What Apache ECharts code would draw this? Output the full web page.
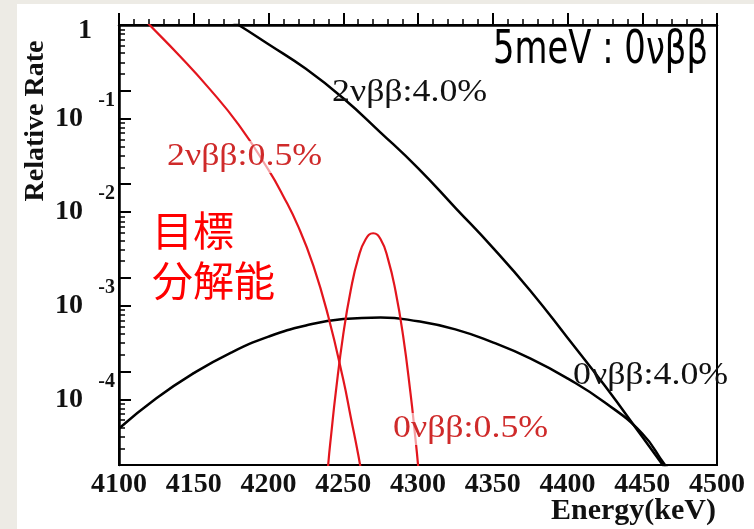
<!DOCTYPE html>
<html>
<head>
<meta charset="utf-8">
<script src="https://cdn.jsdelivr.net/npm/echarts@6/dist/echarts.min.js"></script>
<style>
  html, body { margin: 0; padding: 0; background: #ffffff; }
  #chart { width: 754px; height: 529px; }
</style>
</head>
<body>
<div id="chart"></div>
<script>
// Energy axis (keV)
const energyMin = 4100;
const energyMax = 4500;
const energyStep = 50;

// Rate axis: decades shown as 10^n, lower edge of the plot in log10 units
const decadeExponents = [0, -1, -2, -3, -4];
const lowestExponent = -4.7;
const mediumMultiplier = 2;
const minorMultipliers = [3, 4, 5, 6, 7, 8, 9];

// 2νββ spectrum, 4.0% resolution
const energy2nuWide = [4175, 4180, 4200, 4225, 4250, 4275, 4300, 4325, 4350, 4375, 4400, 4425, 4450, 4470];
const rate2nuWide = [1.10, 1.0, 0.623, 0.340, 0.165, 0.0710, 0.0296, 0.01114, 4.19e-3, 1.46e-3, 4.56e-4, 1.40e-4, 4.00e-5, 1.45e-5];

// 0νββ peak, 4.0% resolution
const energy0nuWide = [4100, 4125, 4150, 4175, 4200, 4225, 4250, 4275, 4300, 4325, 4350, 4375, 4400, 4425, 4450, 4465, 4470];
const rate0nuWide = [4.90e-5, 1.03e-4, 1.91e-4, 3.17e-4, 4.69e-4, 6.17e-4, 7.23e-4, 7.53e-4, 6.83e-4, 5.61e-4, 4.07e-4, 2.75e-4, 1.68e-4, 9.29e-5, 4.33e-5, 2.02e-5, 1.62e-5];

// 2νββ spectrum, 0.5% resolution
const energy2nuNarrow = [4115, 4120, 4140, 4160, 4180, 4200, 4210, 4220, 4230, 4240, 4250, 4255, 4260, 4263];
const rate2nuNarrow = [1.24, 1.02, 0.478, 0.213, 0.0861, 0.0283, 0.01476, 6.97e-3, 2.69e-3, 7.69e-4, 1.63e-4, 6.5e-5, 2.58e-5, 1.36e-5];

// 0νββ peak, 0.5% resolution
const energy0nuNarrow = [4239, 4240, 4242, 4245, 4250, 4255, 4260, 4265, 4270, 4275, 4280, 4285, 4290, 4295, 4298, 4300, 4301];
const rate0nuNarrow = [1.2e-5, 2.07e-5, 4.33e-5, 1.19e-4, 4.95e-4, 1.47e-3, 3.22e-3, 5.14e-3, 5.96e-3, 5.14e-3, 3.14e-3, 1.43e-3, 4.83e-4, 1.16e-4, 4.22e-5, 2.02e-5, 1.2e-5];

const BLACK = '#111111';
const RED_LINE = '#e3151d';
const RED_TEXT = '#cf2a2a';
const SERIF = '"Liberation Serif", "Times New Roman", serif';

function pairs(xs, ys) { return xs.map((x, i) => [x, ys[i]]); }

// Tick positions on the log10 helper axes
const longTicks = [];
const shortTicks = [];
decadeExponents.concat([-5]).forEach(function (n) {
  if (n >= lowestExponent) longTicks.push(n);
  if (n < 0) {
    const m = n + Math.log10(mediumMultiplier);
    if (m > lowestExponent + 0.01) longTicks.push(m);
    minorMultipliers.forEach(function (k) {
      const v = n + Math.log10(k);
      if (v > lowestExponent && v < 0) shortTicks.push(v);
    });
  }
});

const chart = echarts.init(document.getElementById('chart'), null, { renderer: 'canvas' });

function lineSeries(name, xs, ys, color, width) {
  return {
    name: name,
    type: 'line',
    yAxisIndex: 0,
    data: pairs(xs, ys),
    showSymbol: false,
    smooth: 0.5,
    clip: true,
    lineStyle: { color: color, width: width },
    z: 3
  };
}

function note(text, x, y, color, veil) {
  const style = {
    text: text, fill: color,
    fontFamily: SERIF, fontSize: 32,
    align: 'left', verticalAlign: 'middle'
  };
  if (veil) style.backgroundColor = 'rgba(255,255,255,0.6)';
  return { type: 'text', x: x, y: y, z: 20, scaleX: 1.12, style: style };
}

const option = {
  animation: false,
  backgroundColor: '#ffffff',
  grid: {
    left: 119, top: 25, right: 37, bottom: 64,
    show: true, borderColor: '#000', borderWidth: 2, backgroundColor: 'transparent'
  },
  xAxis: {
    type: 'value',
    min: energyMin, max: energyMax, interval: energyStep,
    axisLine: { lineStyle: { color: '#000', width: 2.5 } },
    axisTick: { inside: true, length: 12, lineStyle: { color: '#000', width: 2 } },
    minorTick: { show: true, splitNumber: 5, length: 6, lineStyle: { color: '#000', width: 1.5 } },
    splitLine: { show: false },
    axisLabel: {
      margin: 6, color: BLACK,
      fontFamily: SERIF, fontWeight: 'bold', fontSize: 28,
      formatter: function (v) { return String(v); }
    }
  },
  yAxis: [
    {
      type: 'log', logBase: 10,
      min: Math.pow(10, lowestExponent), max: 1,
      axisLine: { show: false }, axisTick: { show: false },
      axisLabel: { show: false }, splitLine: { show: false }
    },
    {
      type: 'value',
      min: lowestExponent, max: 0,
      position: 'left',
      axisLine: { show: true, lineStyle: { color: '#000', width: 2.5 } },
      axisTick: { show: true, inside: true, length: 12, customValues: longTicks, lineStyle: { color: '#000', width: 2 } },
      splitLine: { show: false },
      axisLabel: {
        customValues: decadeExponents,
        margin: 4,
        formatter: function (v) {
          if (v === 0) return '{one|1}';
          return '{exp|' + v + '}\n{base|10}\n{pad| }';
        },
        rich: {
          one: { fontFamily: SERIF, fontWeight: 'bold', fontSize: 28, lineHeight: 26, padding: [12, 23, 0, 0], color: BLACK },
          exp: { fontFamily: SERIF, fontWeight: 'bold', fontSize: 20, lineHeight: 16, color: BLACK },
          base: { fontFamily: SERIF, fontWeight: 'bold', fontSize: 28, lineHeight: 20, padding: [0, 32, 0, 0], color: BLACK },
          pad: { fontSize: 10, lineHeight: 16 }
        }
      }
    },
    {
      type: 'value',
      min: lowestExponent, max: 0,
      position: 'left',
      axisLine: { show: false },
      axisTick: { show: true, inside: true, length: 6, customValues: shortTicks, lineStyle: { color: '#000', width: 1.5 } },
      axisLabel: { show: false },
      splitLine: { show: false }
    }
  ],
  series: [
    lineSeries('2νββ:4.0%', energy2nuWide, rate2nuWide, '#000', 2.5),
    lineSeries('0νββ:4.0%', energy0nuWide, rate0nuWide, '#000', 2.5),
    lineSeries('2νββ:0.5%', energy2nuNarrow, rate2nuNarrow, RED_LINE, 2.2),
    lineSeries('0νββ:0.5%', energy0nuNarrow, rate0nuNarrow, RED_LINE, 2.2)
  ],
  graphic: [
    // page margins
    { type: 'rect', shape: { x: 0, y: 0, width: 17, height: 529 }, style: { fill: '#edebe5' }, z: 0 },
    { type: 'rect', shape: { x: 0, y: 0, width: 754, height: 4 }, style: { fill: '#edebe5' }, z: 0 },
    // axis titles
    {
      type: 'text', x: 36, y: 121, rotation: Math.PI / 2, z: 20,
      style: { text: 'Relative Rate', fill: BLACK, fontFamily: SERIF, fontWeight: 'bold', fontSize: 28, align: 'center', verticalAlign: 'middle' }
    },
    {
      type: 'text', x: 716, y: 511, z: 20,
      style: { text: 'Energy(keV)', fill: BLACK, fontFamily: SERIF, fontWeight: 'bold', fontSize: 30, align: 'right', verticalAlign: 'middle' }
    },
    // headline
    {
      type: 'text', x: 708, y: 51, z: 20, scaleX: 0.72,
      style: { text: '5meV : 0νββ', fill: '#000', fontFamily: '"DejaVu Sans", sans-serif', fontSize: 47, align: 'right', verticalAlign: 'middle' }
    },
    // curve annotations
    note('2νββ:4.0%', 332, 93, BLACK, false),
    note('2νββ:0.5%', 167, 157, RED_TEXT, true),
    note('0νββ:4.0%', 573, 376, BLACK, false),
    note('0νββ:0.5%', 393, 429, RED_TEXT, true),
    {
      type: 'text', x: 152, y: 205, z: 20,
      style: {
        text: '目標\n分解能', fill: '#ff0000',
        fontFamily: '"Noto Sans CJK JP", sans-serif', fontSize: 41, lineHeight: 50,
        align: 'left', verticalAlign: 'top'
      }
    }
  ]
};

chart.setOption(option);
</script>
</body>
</html>
